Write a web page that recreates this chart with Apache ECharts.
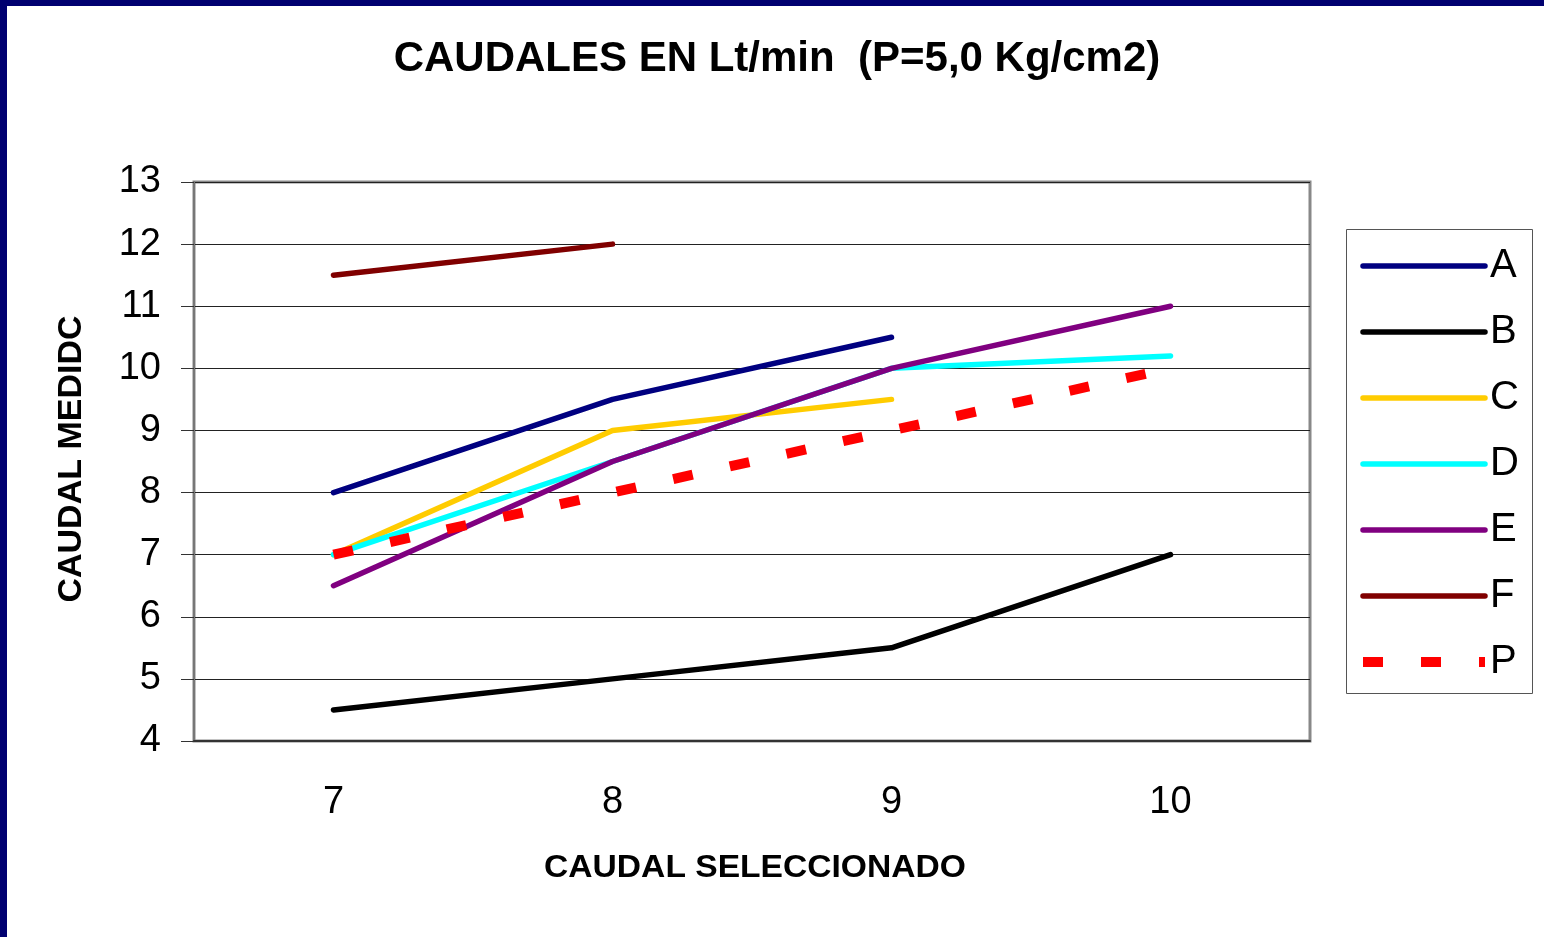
<!DOCTYPE html>
<html>
<head>
<meta charset="utf-8">
<script src="https://cdn.jsdelivr.net/npm/echarts@6/dist/echarts.min.js"></script>
<style>
  html, body { margin: 0; padding: 0; background: #fff; }
  #chart { position: absolute; left: 0; top: 0; width: 1544px; height: 937px; }
  #frameTop { position: absolute; left: 0; top: 0; width: 1544px; height: 6px; background: #000070; }
  #frameLeft { position: absolute; left: 0; top: 0; width: 7px; height: 937px; background: #000070; }
</style>
</head>
<body>
<div id="chart"></div>
<div id="frameTop"></div>
<div id="frameLeft"></div>
<script>
// categorías del eje X (caudal seleccionado)
const categories = ['7', '8', '9', '10'];

// caudal medido por boquilla
const serieA = [8, 9.5, 10.5, null];
const serieB = [4.5, 5, 5.5, 7];
const serieC = [7, 9, 9.5, null];
const serieD = [7, 8.5, 10, 10.2];
const serieE = [6.5, 8.5, 10, 11];
const serieF = [11.5, 12, null, null];
const serieP = [7, 8, 9, 10];

const FONT = '"Liberation Sans", Arial, sans-serif';

const chart = echarts.init(document.getElementById('chart'));

function solid(name, data, color) {
  return {
    name: name,
    type: 'line',
    data: data,
    symbol: 'none',
    silent: true,
    lineStyle: { color: color, width: 5.5, cap: 'round', join: 'round' },
    itemStyle: { color: color }
  };
}

// entradas de la leyenda: solo la línea, sin símbolo
const legendItems = ['A', 'B', 'C', 'D', 'E', 'F'].map(n => ({
  name: n,
  itemStyle: { opacity: 0 },
  lineStyle: { width: 5.5, cap: 'round' }
}));
legendItems.push({
  name: 'P',
  itemStyle: { opacity: 0 },
  lineStyle: { width: 10, type: [20, 38], cap: 'butt' }
});

const option = {
  animation: false,
  textStyle: { fontFamily: FONT },
  grid: {
    left: 194,
    right: 234,
    top: 182,
    bottom: 196,
    show: true,
    borderColor: '#888',
    borderWidth: 3
  },
  xAxis: {
    type: 'category',
    data: categories,
    boundaryGap: true,
    axisLine: { lineStyle: { color: '#333', width: 2 } },
    axisTick: { length: 12, lineStyle: { color: '#333', width: 1 } },
    axisLabel: { fontSize: 38, color: '#000', margin: 43, fontFamily: FONT },
    splitLine: { show: false }
  },
  yAxis: {
    type: 'value',
    min: 4,
    max: 13,
    interval: 1,
    axisLine: { show: true, lineStyle: { color: '#777', width: 2 } },
    axisTick: { show: true, length: 13, lineStyle: { color: '#333', width: 1 } },
    axisLabel: { fontSize: 38, color: '#000', margin: 33, fontFamily: FONT },
    splitLine: { lineStyle: { color: '#222', width: 1 } }
  },
  legend: {
    orient: 'vertical',
    left: 1346,
    top: 229,
    padding: [17, 0, 0, 12],
    itemWidth: 122,
    itemHeight: 36,
    itemGap: 26,
    selectedMode: false,
    textStyle: { fontSize: 40, color: '#000', fontFamily: FONT },
    data: legendItems
  },
  graphic: [
    {
      type: 'rect',
      shape: { x: 1346.5, y: 229.5, width: 186, height: 464 },
      style: { fill: 'none', stroke: '#555', lineWidth: 1 }
    },
    {
      type: 'text',
      x: 777, y: 59,
      style: {
        text: 'CAUDALES EN Lt/min  (P=5,0 Kg/cm2)',
        fontSize: 42, fontWeight: 'bold', fontFamily: FONT,
        fill: '#000', align: 'center', verticalAlign: 'middle'
      }
    },
    {
      type: 'text',
      x: 755, y: 868,
      scaleX: 1.05,
      style: {
        text: 'CAUDAL SELECCIONADO',
        fontSize: 32, fontWeight: 'bold', fontFamily: FONT,
        fill: '#000', align: 'center', verticalAlign: 'middle'
      }
    },
    {
      type: 'text',
      x: 72, y: 459,
      rotation: Math.PI / 2,
      style: {
        text: 'CAUDAL MEDIDC',
        fontSize: 34, fontWeight: 'bold', fontFamily: FONT,
        fill: '#000', align: 'center', verticalAlign: 'middle'
      }
    }
  ],
  series: [
    solid('A', serieA, '#000080'),
    solid('B', serieB, '#000000'),
    solid('C', serieC, '#FFCC00'),
    solid('D', serieD, '#00FFFF'),
    solid('E', serieE, '#800080'),
    solid('F', serieF, '#800000'),
    {
      name: 'P',
      type: 'line',
      data: serieP,
      symbol: 'none',
      silent: true,
      lineStyle: { color: '#FF0000', width: 10, type: [20, 38], cap: 'butt' },
      itemStyle: { color: '#FF0000' }
    }
  ]
};

chart.setOption(option);
</script>
</body>
</html>
